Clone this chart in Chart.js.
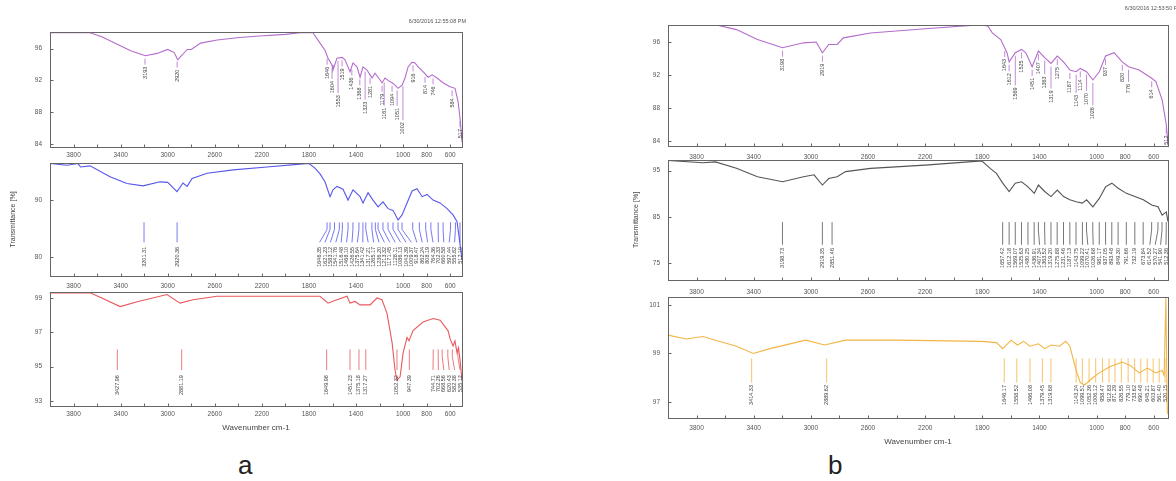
<!DOCTYPE html>
<html>
<head>
<meta charset="utf-8">
<script src="https://cdn.jsdelivr.net/npm/chart.js@4.4.1/dist/chart.umd.min.js"></script>
<style>
html, body { margin: 0; padding: 0; background: #fff; }
body { width: 1176px; height: 481px; position: relative; overflow: hidden; font-family: "Liberation Sans", Arial, sans-serif; }
canvas { position: absolute; }
.panel { position: absolute; font-size: 26px; line-height: 26px; color: #222; }
</style>
</head>
<body>
<div class="panel" style="left:238px;top:452px">a</div>
<div class="panel" style="left:828px;top:452px">b</div>
<script>
// ---- axis ticks (shared by all six spectra)
const xTicksAll = [3800, 3600, 3400, 3200, 3000, 2800, 2600, 2400, 2200, 2000, 1800, 1600, 1400, 1200, 1000, 800, 600];
const xTickLabels = [3800, 3400, 3000, 2600, 2200, 1800, 1400, 1000, 800, 600];

// ---- panel a, top (purple)
const wnTopA = [4000, 3800, 3660, 3560, 3420, 3310, 3190, 3090, 3000, 2945, 2915, 2877, 2835, 2800, 2720, 2580, 2390, 2220, 2000, 1876, 1766, 1706, 1664, 1638, 1604, 1596, 1562, 1519, 1494, 1451, 1426, 1392, 1366, 1341, 1307, 1281, 1264, 1239, 1213, 1179, 1154, 1128, 1094, 1069, 1043, 1009, 984, 958, 924, 899, 873, 831, 788, 754, 712, 661, 602, 559, 533, 515, 500];
const tTopA = [98.0, 98.0, 98.0, 97.5, 96.5, 95.7, 95.1, 95.4, 95.9, 95.5, 94.6, 95.2, 95.9, 95.9, 96.7, 97.1, 97.4, 97.6, 97.8, 98.0, 98.0, 96.7, 95.8, 94.8, 93.9, 93.3, 94.8, 94.9, 94.6, 93.1, 94.2, 93.7, 92.4, 93.7, 93.3, 92.7, 92.3, 92.9, 92.4, 91.7, 92.3, 92.0, 91.7, 91.4, 91.0, 91.4, 92.3, 93.7, 94.3, 94.2, 93.7, 93.1, 92.4, 92.7, 92.3, 91.7, 91.2, 91.0, 89.3, 87.0, 84.2];
const peaksTopA = [3193, 2920, 1646, 1604, 1553, 1519, 1436, 1368, 1323, 1281, 1179, 1161, 1094, 1051, 1002, 916, 814, 746, 584, 517];
const yTicksTopA = [84, 88, 92, 96];

// ---- panel a, middle (blue)
const wnMidA = [4000, 3855, 3762, 3740, 3660, 3490, 3346, 3210, 3065, 3000, 2921, 2870, 2835, 2793, 2665, 2444, 2157, 1876, 1800, 1749, 1706, 1664, 1621, 1596, 1562, 1511, 1468, 1426, 1366, 1341, 1298, 1256, 1213, 1171, 1128, 1086, 1043, 1009, 967, 924, 882, 839, 797, 746, 686, 627, 576, 542, 525, 500];
const tMidA = [96.4, 96.1, 96.4, 95.8, 96.0, 94.1, 92.9, 92.5, 93.2, 93.1, 91.5, 93.0, 92.4, 93.8, 94.7, 95.3, 95.8, 96.3, 96.4, 95.6, 94.6, 93.2, 90.6, 91.8, 92.4, 91.9, 90.0, 91.8, 90.6, 89.5, 91.3, 90.0, 88.8, 89.7, 88.5, 88.2, 86.5, 87.4, 89.5, 91.6, 92.0, 90.6, 91.0, 90.0, 89.5, 88.5, 87.4, 86.2, 83.6, 79.5];
const peaksMidA = [3201.31, 2920.36, 1646.35, 1621.23, 1583.12, 1541.76, 1516.48, 1468.10, 1426.55, 1375.64, 1341.42, 1317.21, 1265.17, 1236.20, 1213.32, 1171.45, 1128.11, 1086.13, 1043.39, 1009.37, 918.47, 862.24, 808.19, 764.36, 702.33, 660.58, 597.44, 555.82, 517.10];
const yTicksMidA = [80, 90];

// ---- panel a, bottom (red)
const wnBotA = [4000, 3660, 3560, 3405, 3250, 3006, 2895, 2785, 2580, 2200, 1800, 1706, 1638, 1562, 1477, 1451, 1409, 1366, 1307, 1281, 1222, 1180, 1137, 1094, 1069, 1052, 1026, 1000, 967, 950, 916, 831, 746, 686, 619, 600, 576, 560, 542, 530, 517, 500];
const tBotA = [99.3, 99.3, 99.0, 98.5, 98.8, 99.2, 98.7, 98.9, 99.1, 99.1, 99.1, 99.1, 98.7, 98.9, 99.1, 98.7, 98.8, 98.6, 98.6, 98.6, 99.0, 98.9, 98.1, 96.4, 94.8, 94.2, 94.4, 95.8, 96.7, 96.5, 97.1, 97.6, 97.8, 97.7, 97.1, 96.6, 96.2, 96.5, 95.8, 96.1, 95.4, 94.2];
const peaksBotA = [3427.96, 2881.19, 1649.98, 1451.23, 1375.18, 1317.27, 1052.32, 947.39, 744.71, 702.26, 668.56, 620.43, 582.38, 535.12];
const yTicksBotA = [93, 95, 97, 99];

// ---- panel b, top (purple)
const wnTopB = [4000, 3668, 3521, 3374, 3198, 3051, 2963, 2919, 2875, 2816, 2772, 2582, 2200, 1804, 1760, 1730, 1671, 1627, 1612, 1569, 1525, 1495, 1451, 1407, 1363, 1319, 1275, 1231, 1187, 1143, 1114, 1070, 1026, 981, 937, 878, 820, 776, 702, 614, 585, 541, 512, 500];
const tTopB = [98.1, 98.1, 97.5, 96.3, 95.3, 95.9, 96.0, 94.7, 95.7, 95.7, 96.5, 97.1, 97.6, 98.1, 97.9, 97.1, 96.3, 94.7, 93.6, 94.7, 95.1, 94.7, 93.0, 94.9, 94.1, 93.4, 94.3, 93.6, 92.6, 92.4, 92.8, 92.4, 91.4, 92.4, 94.3, 94.7, 93.6, 93.0, 92.6, 91.6, 91.2, 89.0, 86.0, 83.6];
const peaksTopB = [3198, 2919, 1643, 1612, 1569, 1525, 1451, 1407, 1363, 1319, 1275, 1187, 1143, 1114, 1070, 1026, 937, 820, 776, 614, 512];
const yTicksTopB = [84, 88, 92, 96];

// ---- panel b, middle (grey)
const wnMidB = [4000, 3756, 3668, 3521, 3374, 3198, 3051, 2978, 2919, 2875, 2816, 2757, 2582, 2200, 1804, 1745, 1701, 1657, 1612, 1569, 1525, 1480, 1436, 1407, 1363, 1319, 1275, 1231, 1187, 1143, 1099, 1070, 1026, 981, 937, 893, 849, 791, 732, 673, 614, 570, 541, 512, 500];
const tMidB = [97.2, 96.7, 96.9, 95.5, 93.7, 92.6, 93.7, 94.1, 91.9, 93.3, 93.7, 94.8, 95.5, 96.2, 97.1, 95.5, 94.4, 92.3, 90.5, 92.3, 92.6, 91.5, 90.1, 91.9, 90.5, 89.4, 90.8, 89.4, 88.7, 88.3, 88.0, 88.7, 87.2, 89.0, 91.5, 92.3, 91.2, 90.1, 89.4, 88.7, 87.6, 87.2, 85.4, 86.1, 84.0];
const peaksMidB = [3198.73, 2919.35, 2851.46, 1657.42, 1612.18, 1569.07, 1525.63, 1480.25, 1436.91, 1407.34, 1363.52, 1319.20, 1275.88, 1231.46, 1187.13, 1143.75, 1099.22, 1070.41, 1026.68, 981.17, 937.05, 893.48, 849.30, 791.66, 732.19, 673.84, 614.52, 570.27, 541.90, 512.36];
const yTicksMidB = [75, 85, 95];

// ---- panel b, bottom (orange)
const wnBotB = [4000, 3873, 3756, 3668, 3521, 3403, 3286, 3036, 2904, 2757, 2400, 1804, 1701, 1657, 1598, 1554, 1510, 1466, 1407, 1363, 1319, 1260, 1216, 1187, 1143, 1114, 1084, 1026, 981, 908, 820, 761, 702, 644, 585, 541, 527, 515, 505, 500];
const tBotB = [99.76, 99.6, 99.7, 99.55, 99.3, 99.0, 99.2, 99.55, 99.35, 99.55, 99.55, 99.5, 99.45, 99.2, 99.55, 99.35, 99.5, 99.3, 99.4, 99.2, 99.35, 99.3, 99.5, 99.3, 98.3, 97.8, 97.7, 98.0, 98.2, 98.45, 98.65, 98.5, 98.2, 98.4, 98.2, 98.3, 98.1, 101.3, 96.6, 96.5];
const peaksBotB = [3414.33, 2889.62, 1646.17, 1558.52, 1466.08, 1379.45, 1319.68, 1143.24, 1099.51, 1052.36, 1006.12, 958.47, 912.83, 871.29, 826.55, 779.10, 733.62, 690.48, 645.21, 603.87, 561.40, 520.15];
const yTicksBotB = [97, 99, 101];

const FONT = '"Liberation Sans", Arial, sans-serif';

// value of the curve at a wavenumber (for placing labels under peaks)
function curveAt(data, x) {
  for (let i = 0; i < data.length - 1; i++) {
    const a = data[i], b = data[i + 1];
    if ((x <= a.x && x >= b.x) || (x >= a.x && x <= b.x)) {
      if (a.x === b.x) return a.y;
      return a.y + (b.y - a.y) * (x - a.x) / (b.x - a.x);
    }
  }
  return data[data.length - 1].y;
}

// box round the plot, inward tick marks, date stamp
const framePlugin = {
  id: 'frame',
  afterDraw(chart, args, opts) {
    const { ctx, chartArea: a } = chart;
    const l = Math.round(a.left) + 0.5, r = Math.round(a.right) + 0.5;
    const t = Math.round(a.top) + 0.5, b = Math.round(a.bottom) + 0.5;
    ctx.save();
    ctx.strokeStyle = '#666';
    ctx.lineWidth = 1;
    ctx.strokeRect(l, t, r - l, b - t);
    ctx.beginPath();
    chart.scales.x.ticks.forEach(tk => {
      const px = Math.round(chart.scales.x.getPixelForValue(tk.value)) + 0.5;
      ctx.moveTo(px, b); ctx.lineTo(px, b - 3);
    });
    chart.scales.y.ticks.forEach(tk => {
      const py = Math.round(chart.scales.y.getPixelForValue(tk.value)) + 0.5;
      ctx.moveTo(l, py); ctx.lineTo(l + 3, py);
    });
    ctx.stroke();
    if (opts.stamp) {
      ctx.fillStyle = '#555';
      ctx.font = '5.5px ' + FONT;
      ctx.textAlign = 'right';
      ctx.textBaseline = 'middle';
      ctx.fillText(opts.stamp, a.right + opts.dx, a.top - opts.dy);
    }
    ctx.restore();
  }
};

// peak picks: short lines and rotated wavenumber labels
const peakPlugin = {
  id: 'peaks',
  afterDatasetsDraw(chart, args, opts) {
    if (!opts.list) return;
    const { ctx, chartArea } = chart;
    const xs = chart.scales.x, ys = chart.scales.y;
    const data = chart.data.datasets[0].data;
    ctx.save();
    ctx.font = opts.fontSize + 'px ' + FONT;
    ctx.lineWidth = 0.8;
    const items = opts.list.map(p => ({
      p, x: xs.getPixelForValue(p),
      text: opts.decimals ? p.toFixed(opts.decimals) : String(Math.round(p))
    })).sort((m, n) => m.x - n.x);

    const drawText = (txt, x, top) => {
      ctx.save();
      ctx.translate(x, top);
      ctx.rotate(-Math.PI / 2);
      ctx.fillStyle = opts.textColor;
      ctx.textAlign = 'right';
      ctx.textBaseline = 'middle';
      ctx.fillText(txt, 0, 0);
      ctx.restore();
    };

    if (opts.mode === 'curve') {
      const placed = [];
      items.forEach(it => {
        const cy = ys.getPixelForValue(curveAt(data, it.p)) + 3;
        const w = ctx.measureText(it.text).width;
        let top = cy + 8;
        let moved = true;
        while (moved) {
          moved = false;
          placed.forEach(q => {
            if (Math.abs(q.x - it.x) < opts.fontSize + 1 && top < q.bottom + 2 && top + w > q.top - 2) {
              top = q.bottom + 2; moved = true;
            }
          });
        }
        ctx.strokeStyle = opts.color;
        ctx.beginPath();
        ctx.moveTo(it.x, cy); ctx.lineTo(it.x, top - 2);
        ctx.stroke();
        drawText(it.text, it.x, top);
        placed.push({ x: it.x, top, bottom: top + w });
      });
    } else {
      const yTop = ys.getPixelForValue(opts.lineTop);
      const yBot = ys.getPixelForValue(opts.lineBot);
      const yTxt = ys.getPixelForValue(opts.textTop);
      const lx = items.map(it => it.x);
      for (let i = 1; i < lx.length; i++) lx[i] = Math.max(lx[i], lx[i - 1] + opts.gap);
      const lim = chartArea.right - 2;
      if (lx[lx.length - 1] > lim) {
        lx[lx.length - 1] = lim;
        for (let i = lx.length - 2; i >= 0; i--) lx[i] = Math.min(lx[i], lx[i + 1] - opts.gap);
      }
      items.forEach((it, i) => {
        const ym = yTop + (yBot - yTop) * 0.35;
        ctx.strokeStyle = opts.color;
        ctx.beginPath();
        ctx.moveTo(it.x, yTop); ctx.lineTo(it.x, ym); ctx.lineTo(lx[i], yBot);
        ctx.stroke();
        drawText(it.text, lx[i], yTxt);
      });
    }
    ctx.restore();
  }
};

Chart.register(framePlugin, peakPlugin);

function makeChart(cfg) {
  const yw = 50, pr = 10;
  const [L, R, T, B] = cfg.box;
  const cv = document.createElement('canvas');
  const left = L - yw, top = T - cfg.pt;
  cv.width = R - left + pr;
  cv.height = B - top + cfg.xh;
  cv.style.left = left + 'px';
  cv.style.top = top + 'px';
  document.body.appendChild(cv);

  return new Chart(cv, {
    type: 'line',
    data: {
      datasets: [{
        data: cfg.wn.map((x, i) => ({ x, y: cfg.t[i] })),
        borderColor: cfg.color,
        borderWidth: 1.1,
        pointRadius: 0,
        tension: 0,
        fill: false
      }]
    },
    options: {
      responsive: false,
      animation: false,
      events: [],
      layout: { padding: { left: 0, right: pr, top: cfg.pt, bottom: 0 } },
      plugins: {
        legend: { display: false },
        tooltip: { enabled: false },
        frame: cfg.stamp || {},
        peaks: cfg.peaks
      },
      scales: {
        x: {
          type: 'linear',
          reverse: true,
          min: 500,
          max: 4000,
          afterBuildTicks: s => { s.ticks = xTicksAll.map(v => ({ value: v })); },
          afterFit: s => { s.height = cfg.xh; },
          grid: { display: false, drawTicks: false },
          border: { display: false },
          ticks: {
            autoSkip: false, maxRotation: 0, padding: cfg.xpad,
            font: { size: 6.5, family: FONT }, color: '#555',
            callback: v => xTickLabels.includes(v) ? String(v) : ''
          },
          title: {
            display: !!cfg.xTitle, text: 'Wavenumber cm-1',
            font: { size: 8, family: FONT }, color: '#444', padding: { top: 0, bottom: 0 }
          }
        },
        y: {
          min: cfg.ymin,
          max: cfg.ymax,
          afterBuildTicks: s => { s.ticks = cfg.yticks.map(v => ({ value: v })); },
          afterFit: s => { s.width = yw; },
          grid: { display: false, drawTicks: false },
          border: { display: false },
          ticks: { autoSkip: false, padding: 8, font: { size: 6.5, family: FONT }, color: '#555' },
          title: {
            display: !!cfg.yTitle, text: 'Transmittance [%]',
            font: { size: 7, family: FONT }, color: '#444',
            padding: { top: cfg.yTitle || 0, bottom: 0 }
          }
        }
      }
    }
  });
}

const purple = '#b46ccc', blue = '#5757ec', red = '#e8585c', grey = '#555555', orange = '#f2b545';

// panel a
makeChart({ box: [50, 462, 32, 147], pt: 16, xh: 14, xpad: 4, wn: wnTopA, t: tTopA, color: purple,
  ymin: 83.6, ymax: 98.1, yticks: yTicksTopA,
  stamp: { stamp: '6/30/2016 12:55:08 PM', dx: 4, dy: 11 },
  peaks: { mode: 'curve', list: peaksTopA, decimals: 0, color: purple, textColor: '#444', fontSize: 5.5 } });
makeChart({ box: [50, 462, 163, 276], pt: 14, xh: 14, xpad: 6, wn: wnMidA, t: tMidA, color: blue,
  ymin: 76.7, ymax: 96.5, yticks: yTicksMidA, yTitle: 9,
  peaks: { mode: 'band', list: peaksMidA, decimals: 2, color: blue, textColor: '#444', fontSize: 5.5,
    lineTop: 86.1, lineBot: 82.6, textTop: 81.8, gap: 5.4 } });
makeChart({ box: [50, 462, 292, 406], pt: 14, xh: 27, xpad: 4, xTitle: true, wn: wnBotA, t: tBotA, color: red,
  ymin: 92.7, ymax: 99.35, yticks: yTicksBotA,
  peaks: { mode: 'band', list: peaksBotA, decimals: 2, color: red, textColor: '#444', fontSize: 5.5,
    lineTop: 96.0, lineBot: 94.8, textTop: 94.5, gap: 5.4 } });

// panel b
makeChart({ box: [668, 1168, 25, 146], pt: 22, xh: 14, xpad: 7, wn: wnTopB, t: tTopB, color: purple,
  ymin: 83.4, ymax: 98.06, yticks: yTicksTopB,
  stamp: { stamp: '6/30/2016 12:53:50 PM', dx: 14, dy: 17 },
  peaks: { mode: 'curve', list: peaksTopB, decimals: 0, color: purple, textColor: '#444', fontSize: 5.5 } });
makeChart({ box: [668, 1168, 160, 280], pt: 14, xh: 14, xpad: 8, wn: wnMidB, t: tMidB, color: grey,
  ymin: 71.4, ymax: 97.3, yticks: yTicksMidB, yTitle: 14,
  peaks: { mode: 'band', list: peaksMidB, decimals: 2, color: grey, textColor: '#444', fontSize: 5.5,
    lineTop: 83.9, lineBot: 79.0, textTop: 78.3, gap: 5.4 } });
makeChart({ box: [668, 1168, 297, 418], pt: 14, xh: 29, xpad: 6, xTitle: true, wn: wnBotB, t: tBotB, color: orange,
  ymin: 96.34, ymax: 101.33, yticks: yTicksBotB,
  peaks: { mode: 'band', list: peaksBotB, decimals: 2, color: orange, textColor: '#444', fontSize: 5.5,
    lineTop: 98.8, lineBot: 97.8, textTop: 97.7, gap: 5.4 } });
</script>
</body>
</html>
